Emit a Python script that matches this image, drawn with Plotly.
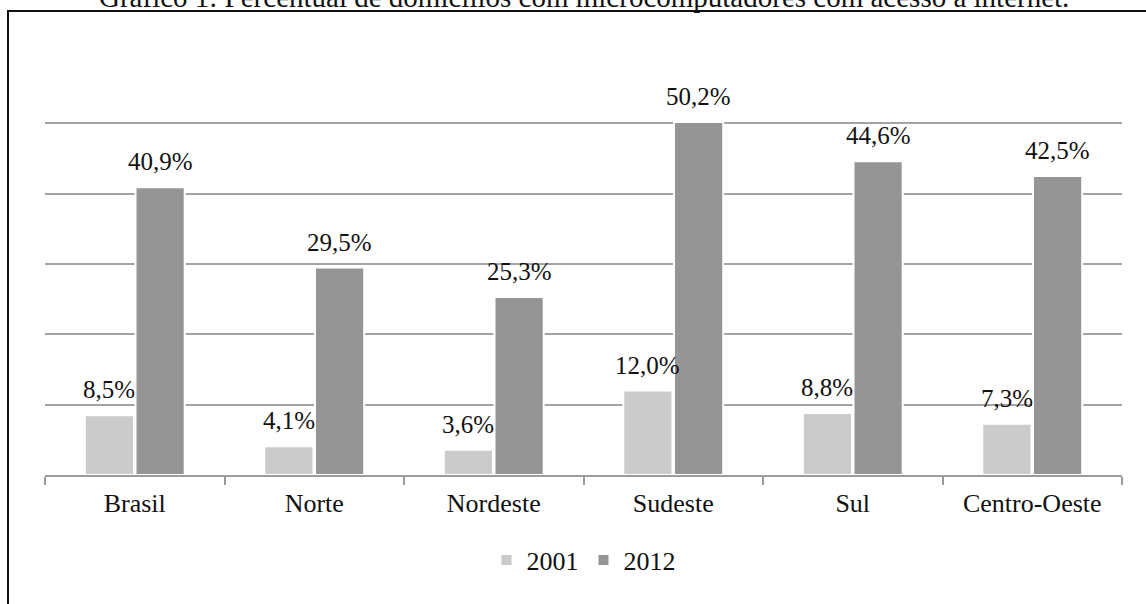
import plotly.graph_objects as go

# Percentual de domicílios com microcomputadores com acesso à internet
regioes = ["Brasil", "Norte", "Nordeste", "Sudeste", "Sul", "Centro-Oeste"]
anos = ["2001", "2012"]
valores_2001 = [8.5, 4.1, 3.6, 12.0, 8.8, 7.3]
valores_2012 = [40.9, 29.5, 25.3, 50.2, 44.6, 42.5]
titulo = "Gráfico 1: Percentual de domicílios com microcomputadores com acesso à internet."

cores = ["#cbcbcb", "#959595"]
serie = [valores_2001, valores_2012]

W, H = 1146, 604
L, R, T, B = 45, 24, 53, 129
plot_w = W - L - R
plot_h = H - T - B

FONTE = "Liberation Serif"
BARGAP = 0.435
fig = go.Figure()
for ano, vals, cor in zip(anos, serie, cores):
    fig.add_trace(go.Bar(
        x=regioes, y=vals, name=ano,
        marker=dict(color=cor, line=dict(color="white", width=2)),
        hoverinfo="skip",
    ))

# rótulos de valor acima de cada barra
desloc = (1 - BARGAP) / 4
for i, vals in enumerate(serie):
    sinal = -1 if i == 0 else 1
    for k, v in enumerate(vals):
        fig.add_annotation(
            x=k + sinal * desloc, y=v, xref="x", yref="y",
            text=f"{v:.1f}%".replace(".", ","),
            showarrow=False, yanchor="bottom", yshift=10,
            font=dict(family=FONTE, size=25, color="#111111"),
        )

# título (acima da moldura)
fig.add_annotation(
    x=0.5, y=1, xref="paper", yref="paper", yanchor="middle",
    yshift=T + 3, text=titulo, showarrow=False,
    font=dict(family=FONTE, size=29, color="#111111"),
)

# moldura
px = lambda p: (p - L) / plot_w
py = lambda p: 1 + (T - p) / plot_h
fig.add_shape(
    type="path", xref="paper", yref="paper",
    path=f"M {px(8)} {py(H + 20)} L {px(8)} {py(11)} L {px(W + 20)} {py(11)}",
    line=dict(color="#111111", width=2),
)

fig.update_layout(
    width=W, height=H,
    margin=dict(l=L, r=R, t=T, b=B, pad=0),
    paper_bgcolor="white", plot_bgcolor="white",
    barmode="group", bargap=BARGAP, bargroupgap=0.03,
    showlegend=True,
    legend=dict(
        orientation="h", x=0.5, xanchor="center",
        y=(475 - 560) / plot_h, yanchor="middle",
        font=dict(family=FONTE, size=26, color="#111111"),
        itemclick=False,
    ),
    font=dict(family=FONTE, color="#111111"),
)
fig.update_xaxes(
    showline=True, linecolor="#9c9c9c", linewidth=2,
    ticks="outside", tickson="boundaries", ticklen=8, tickwidth=2,
    tickcolor="#9c9c9c", showgrid=False,
    tickfont=dict(family=FONTE, size=26, color="#111111"),
    ticklabelstandoff=4,
)
fig.update_yaxes(
    range=[0, 60], dtick=10, showgrid=True, gridcolor="#a3a3a3",
    gridwidth=2, zeroline=False, showticklabels=False, ticks="",
)

fig.write_html("out.html")
